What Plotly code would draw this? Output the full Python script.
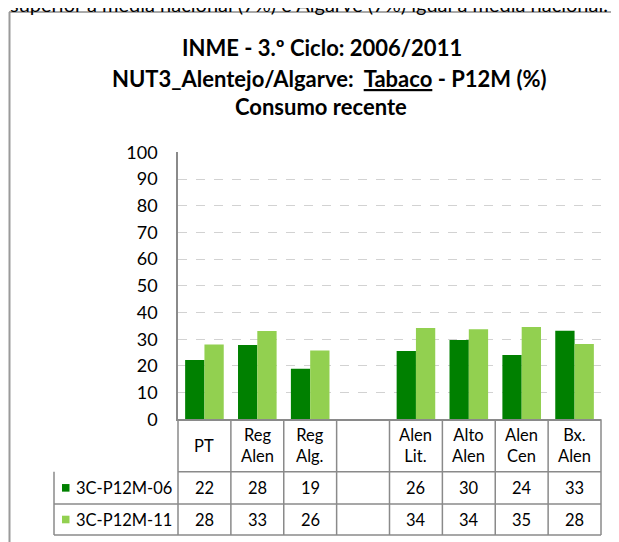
import plotly.graph_objects as go

# data (bar heights) and its data table
categories = ["PT", "Reg<br>Alen", "Reg<br>Alg.", "", "Alen<br>Lit.", "Alto<br>Alen", "Alen<br>Cen", "Bx.<br>Alen"]
p12m_06 = [22.2, 27.8, 18.9, None, 25.6, 29.7, 24.1, 33.2]
p12m_11 = [28.0, 33.1, 25.8, None, 34.2, 33.7, 34.6, 28.2]
series_names = ["3C-P12M-06", "3C-P12M-11"]
series_colors = ["#008000", "#92D050"]
y_ticks = list(range(0, 101, 10))

W, H = 619, 542
OFF = 8  # page body margin, the figure starts at (8, 8) in the window
LINE = "#8a8a8a"


# window pixel -> paper coordinate
def px(x):
    return (x - OFF) / W


def py(y):
    return 1 - (y - OFF) / H


pos = list(range(len(categories)))
series = [p12m_06, p12m_11]

fig = go.Figure()
for name, vals, col in zip(series_names, series, series_colors):
    fig.add_trace(go.Bar(x=pos, y=vals, name=name, marker_color=col, marker_line_width=0))

# plot area in window pixels
x_left, x_right = 178, 601
y_top, y_zero = 152.3, 419.3
# table rows
row_cat = 471.7
row_1 = 504.0
row_2 = 535.0
leg_left = 54

shapes = []
# outer frame of the chart object (top and left edges visible)
shapes.append(dict(type="line", xref="paper", yref="paper", x0=px(9), x1=1.0, y0=py(12), y1=py(12),
                   line=dict(color="#8c8c8c", width=1.5)))
shapes.append(dict(type="line", xref="paper", yref="paper", x0=px(9.5), x1=px(9.5), y0=py(12), y1=0,
                   line=dict(color="#9a9a9a", width=2)))

# table grid
for yy in [row_cat, row_1, row_2]:
    x0 = px(leg_left) if yy != row_cat else px(x_left)
    shapes.append(dict(type="line", xref="paper", yref="paper", x0=x0, x1=px(x_right), y0=py(yy), y1=py(yy),
                       line=dict(color=LINE, width=1.5)))
shapes.append(dict(type="line", xref="paper", yref="paper", x0=px(leg_left), x1=px(leg_left),
                   y0=py(row_cat), y1=py(row_2), line=dict(color=LINE, width=1.5)))
shapes.append(dict(type="line", xref="paper", yref="paper", x0=px(x_left), x1=px(x_left),
                   y0=py(y_zero), y1=py(row_2), line=dict(color=LINE, width=1.5)))
shapes.append(dict(type="line", xref="paper", yref="paper", x0=px(x_right), x1=px(x_right),
                   y0=py(y_zero), y1=py(row_2), line=dict(color=LINE, width=1.5)))
for i in pos[1:]:
    shapes.append(dict(type="line", xref="x", yref="paper", x0=i - 0.5, x1=i - 0.5,
                       y0=py(y_zero), y1=py(row_2), line=dict(color=LINE, width=1.5)))

annotations = []
# top of the page text, cut off by the crop
annotations.append(dict(xref="paper", yref="paper", x=px(8), y=py(18.5), xanchor="left", yanchor="bottom",
                        text="superior à média nacional (7%) e Algarve (7%) igual à média nacional.",
                        showarrow=False, font=dict(size=20)))
# title
title_lines = ["<b>INME - 3.º Ciclo: 2006/2011</b>",
               "<b>NUT3_Alentejo/Algarve:  <u>Tabaco</u> - P12M (%)</b>",
               "<b>Consumo recente</b>"]
for t, xx, yy in zip(title_lines, [322, 329, 321], [47, 78, 107]):
    annotations.append(dict(xref="paper", yref="paper", x=px(xx), y=py(yy), xanchor="center", yanchor="middle",
                            text=t, showarrow=False, font=dict(size=22)))

TFONT = 16.5
# category header row
for i, c in zip(pos, categories):
    annotations.append(dict(xref="x", yref="paper", x=i, y=py((y_zero + row_cat) / 2), text=c,
                            xanchor="center", yanchor="middle", showarrow=False, font=dict(size=TFONT)))

# data rows
for vals, name, col, (r0, r1) in zip(series, series_names, series_colors, [(row_cat, row_1), (row_1, row_2)]):
    yc = (r0 + r1) / 2
    shapes.append(dict(type="rect", xref="paper", yref="paper", x0=px(62), x1=px(69.5),
                       y0=py(yc + 3.8), y1=py(yc - 3.8), fillcolor=col, line=dict(width=0)))
    annotations.append(dict(xref="paper", yref="paper", x=px(74), y=py(yc), xanchor="left", yanchor="middle",
                            text=name, showarrow=False, font=dict(size=TFONT)))
    for i, v in zip(pos, vals):
        if v is None:
            continue
        annotations.append(dict(xref="x", yref="paper", x=i, y=py(yc), text=f"{v:.0f}",
                                xanchor="center", yanchor="middle", showarrow=False, font=dict(size=TFONT)))

fig.update_layout(
    width=W, height=H,
    margin=dict(l=0, r=0, t=0, b=0, pad=0, autoexpand=False),
    paper_bgcolor="white", plot_bgcolor="white",
    barmode="group", bargap=0.27, bargroupgap=0,
    showlegend=False,
    font=dict(family="Lato", size=17, color="black"),
    xaxis=dict(domain=[px(x_left), px(x_right)], range=[-0.5, len(categories) - 0.5],
               showticklabels=False, showgrid=False, zeroline=False, automargin=False,
               showline=True, linecolor=LINE, linewidth=1.5, ticks=""),
    yaxis=dict(domain=[py(y_zero), py(y_top)], range=[0, 100], tickvals=y_ticks, automargin=False,
               showgrid=True, gridcolor="#d2d2d2", griddash="dash", gridwidth=1,
               zeroline=False, showline=True, linecolor=LINE, linewidth=1.5,
               ticks="", ticklabelstandoff=15, tickfont=dict(size=18)),
    shapes=shapes,
    annotations=annotations,
)

fig.write_html("out.html")
